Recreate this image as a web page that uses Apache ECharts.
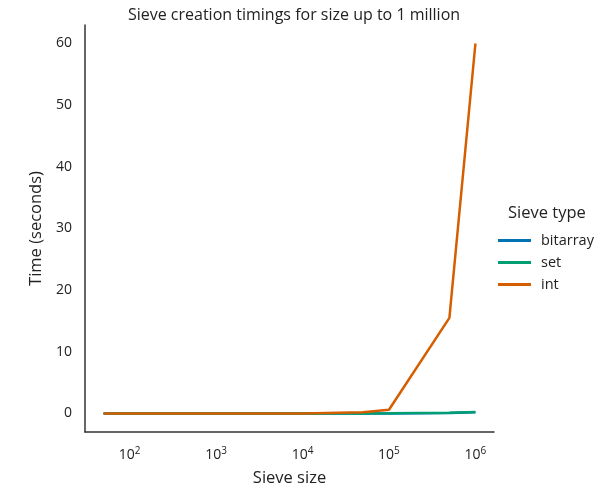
<!DOCTYPE html>
<html>
<head>
<meta charset="utf-8">
<script src="https://cdn.jsdelivr.net/npm/echarts@6/dist/echarts.min.js"></script>
<style>
  html, body { margin: 0; padding: 0; background: #fff; }
  #main { width: 609px; height: 500px; }
</style>
</head>
<body>
<div id="main"></div>
<script>
var sizes = [50, 100, 500, 1000, 5000, 10000, 50000, 100000, 500000, 1000000];
var bitarrayTimes = [0, 0, 0, 0, 0.001, 0.002, 0.01, 0.02, 0.1, 0.2];
var setTimes = [0, 0, 0, 0, 0.002, 0.004, 0.02, 0.04, 0.13, 0.26];
var intTimes = [0, 0, 0, 0, 0.005, 0.02, 0.2, 0.6, 15.5, 60];
var yTicks = [0, 10, 20, 30, 40, 50, 60];
var xTicks = [100, 1000, 10000, 100000, 1000000];

var font = 'Open Sans';
var chartDom = document.getElementById('main');
var myChart = echarts.init(chartDom);

function pairs(xs, ys) {
  return xs.map(function (x, i) { return [x, ys[i]]; });
}

function lineSeries(name, color, values) {
  return {
    name: name,
    type: 'line',
    data: pairs(sizes, values),
    symbol: 'none',
    lineStyle: { color: color, width: 2.5 },
    itemStyle: { color: color }
  };
}

var option = {
  animation: false,
  textStyle: { fontFamily: font },
  title: {
    text: 'Sieve creation timings for size up to 1 million',
    left: 289, top: 2, textAlign: 'center',
    textStyle: { fontFamily: font, fontSize: 16, fontWeight: 'normal', color: '#222' }
  },
  grid: { left: 85, right: 115, top: 25, bottom: 68 },
  legend: {
    orient: 'vertical',
    left: 493, top: 228,
    itemWidth: 33, itemHeight: 3, itemGap: 7,
    icon: 'rect',
    textStyle: { fontFamily: font, fontSize: 14.5, color: '#222', padding: [0, 0, 0, 5] },
    data: ['bitarray', 'set', 'int']
  },
  graphic: [{
    type: 'text', left: 508, top: 205,
    style: { text: 'Sieve type', font: '16.5px "Open Sans"', fill: '#222' }
  }],
  xAxis: {
    type: 'log',
    logBase: 10,
    min: 30.5,
    max: 1640000,
    name: 'Sieve size',
    nameLocation: 'middle',
    nameGap: 38,
    nameTextStyle: { fontFamily: font, fontSize: 16.5, color: '#222' },
    axisLine: { onZero: false, lineStyle: { color: '#333', width: 1.5 } },
    axisTick: { show: false },
    splitLine: { show: false },
    axisLabel: {
      customValues: xTicks,
      margin: 14,
      color: '#222',
      fontFamily: font,
      fontSize: 14,
      formatter: function (v) { return '10{s|' + Math.round(Math.log10(v)) + '}'; },
      rich: { s: { fontSize: 10, fontFamily: font, color: '#222', padding: [0, 0, 8, 0] } }
    }
  },
  yAxis: {
    type: 'value',
    min: -3,
    max: 63,
    name: 'Time (seconds)',
    nameLocation: 'middle',
    nameGap: 37,
    nameTextStyle: { fontFamily: font, fontSize: 16.5, color: '#222' },
    axisLine: { show: true, onZero: false, lineStyle: { color: '#333', width: 1.5 } },
    axisTick: { show: false },
    splitLine: { show: false },
    axisLabel: { customValues: yTicks, margin: 13, color: '#222', fontFamily: font, fontSize: 14 }
  },
  series: [
    lineSeries('bitarray', '#0173b2', bitarrayTimes),
    lineSeries('set', '#029e73', setTimes),
    lineSeries('int', '#d55e00', intTimes)
  ]
};

option && myChart.setOption(option);
window.addEventListener('resize', myChart.resize);
</script>
</body>
</html>
